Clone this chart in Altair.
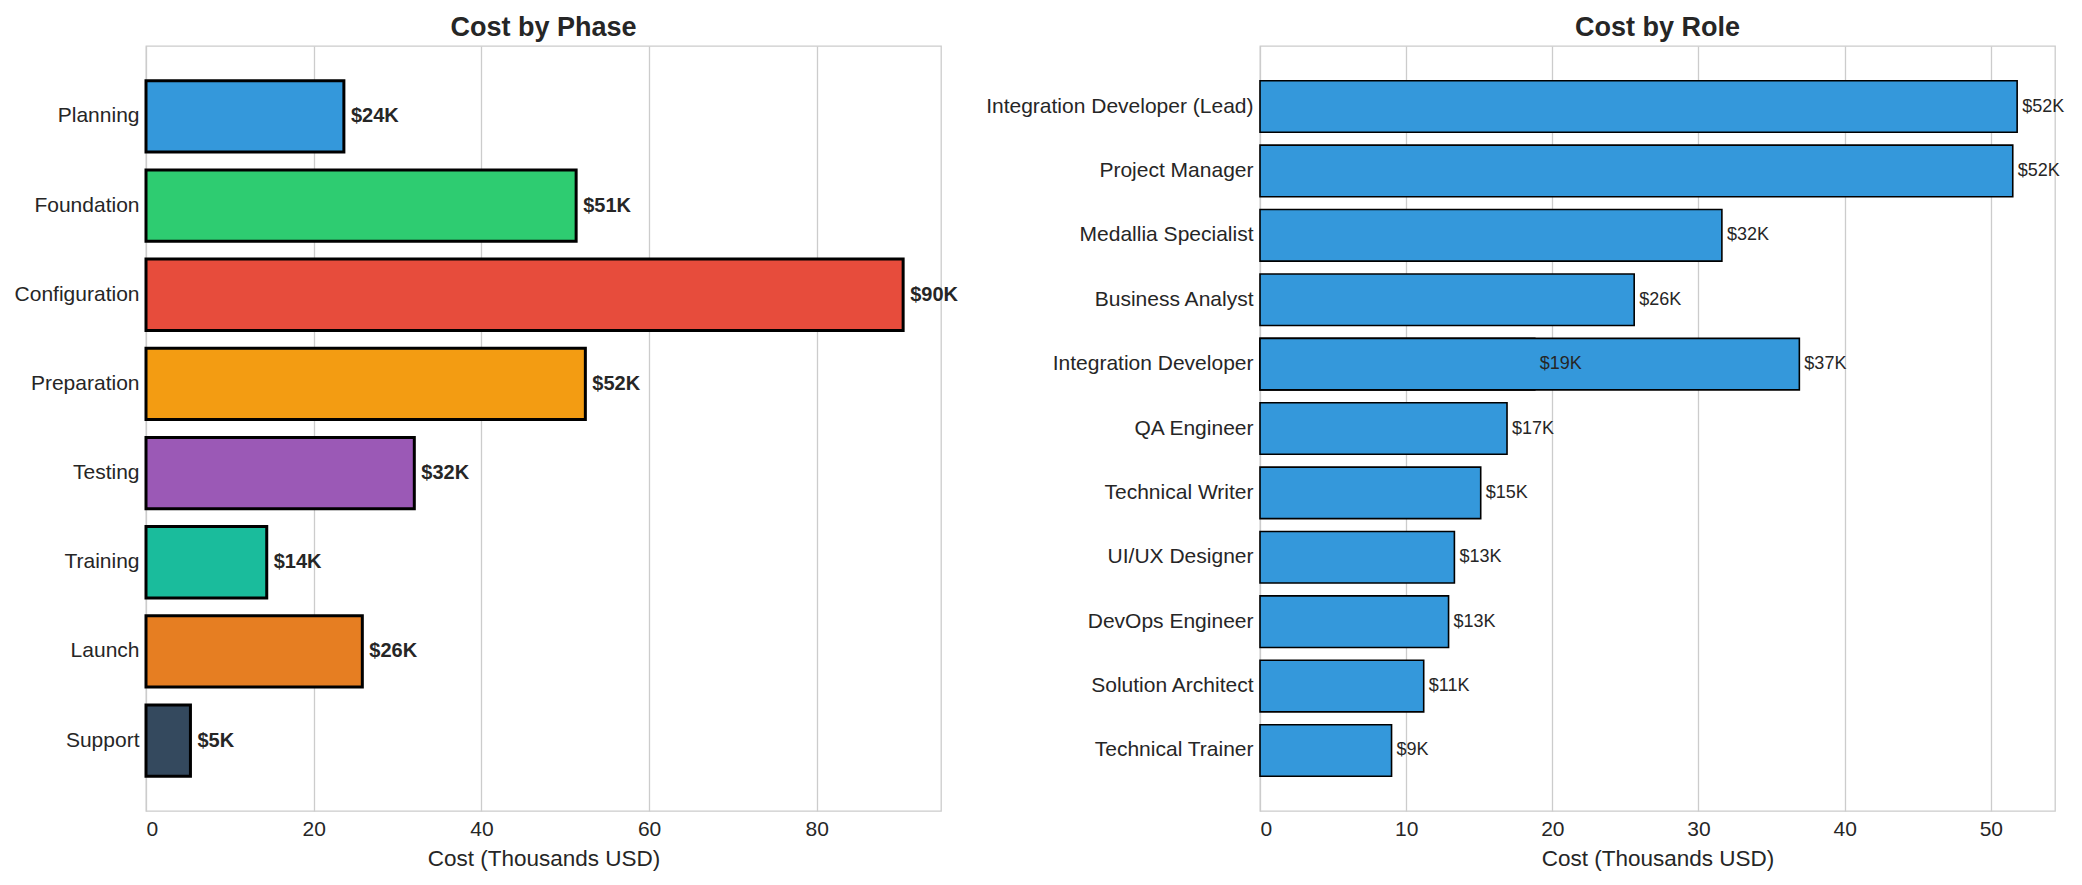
import pandas as pd
import altair as alt

FONT = "Liberation Sans"
TEXT = "#262626"

phases = ["Planning", "Foundation", "Configuration", "Preparation",
          "Testing", "Training", "Launch", "Support"]
phase_costs = [23.6, 51.3, 90.3, 52.4, 32.0, 14.4, 25.8, 5.3]
phase_colors = ["#3498db", "#2ecc71", "#e74c3c", "#f39c12",
                "#9b59b6", "#1abc9c", "#e67e22", "#34495e"]

# bottom-to-top drawing order; "Integration Developer" appears twice
roles = ["Technical Trainer", "Solution Architect", "DevOps Engineer",
         "UI/UX Designer", "Technical Writer", "QA Engineer",
         "Integration Developer", "Business Analyst", "Medallia Specialist",
         "Integration Developer", "Project Manager",
         "Integration Developer (Lead)"]
role_costs = [9.0, 11.2, 12.9, 13.3, 15.1, 16.9, 18.8, 25.6, 31.6, 36.9, 51.5, 51.8]

phase_df = pd.DataFrame({"phase": phases, "cost": phase_costs})
phase_df["label"] = phase_df.cost.map(lambda v: f"${v:.0f}K")

role_df = pd.DataFrame({"role": roles, "cost": role_costs})
role_df["label"] = role_df.cost.map(lambda v: f"${v:.0f}K")
role_order = list(pd.unique(role_df.role))[::-1]

W, H = 795, 765


def x_enc(max_val, ticks):
    return alt.X(
        "cost:Q",
        title="Cost (Thousands USD)",
        stack=None,
        scale=alt.Scale(domain=[0, max_val * 1.05], nice=False, zero=True),
        axis=alt.Axis(values=ticks),
    )


bars_phase = (
    alt.Chart(phase_df)
    .mark_bar(stroke="black", strokeWidth=3)
    .encode(
        x_enc(max(phase_costs), [0, 20, 40, 60, 80]),
        alt.Y("phase:N", sort=phases, title=None,
              scale=alt.Scale(paddingInner=0.2, paddingOuter=0.39),
              axis=alt.Axis(bandPosition=0.5)),
        alt.Color("phase:N", scale=alt.Scale(domain=phases, range=phase_colors),
                  legend=None),
    )
)
text_phase = (
    alt.Chart(phase_df)
    .mark_text(align="left", baseline="middle", dx=7, fontSize=20,
               fontWeight="bold", font=FONT, color=TEXT)
    .encode(x="cost:Q", y=alt.Y("phase:N", sort=phases), text="label:N")
)
left = (bars_phase + text_phase).properties(
    width=W, height=H, title="Cost by Phase"
)

bars_role = (
    alt.Chart(role_df)
    .mark_bar(stroke="black", strokeWidth=1.6, color="#3498db")
    .encode(
        x_enc(max(role_costs), [0, 10, 20, 30, 40, 50]),
        alt.Y("role:N", sort=role_order, title=None,
              scale=alt.Scale(paddingInner=0.2, paddingOuter=0.54),
              axis=alt.Axis(bandPosition=0.5)),
    )
)
text_role = (
    alt.Chart(role_df)
    .mark_text(align="left", baseline="middle", dx=5, fontSize=18,
               font=FONT, color=TEXT)
    .encode(x="cost:Q", y=alt.Y("role:N", sort=role_order), text="label:N")
)
right = (bars_role + text_role).properties(
    width=W, height=H, title="Cost by Role"
)

chart = (
    alt.hconcat(left, right, spacing=26)
    .configure(background="white")
    .configure_view(stroke="#cccccc", strokeWidth=1.3)
    .configure_axis(
        labelFont=FONT, titleFont=FONT, labelColor=TEXT, titleColor=TEXT,
        labelFontSize=21, titleFontSize=22.5, titleFontWeight="normal",
        labelLimit=0, ticks=False, domain=False, gridColor="#cccccc",
        gridWidth=1.3, labelPadding=7, titlePadding=8,
    )
    .configure_title(font=FONT, fontSize=27, fontWeight="bold", color=TEXT,
                     offset=4)
)

chart.save("out.html", embed_options={"renderer": "svg", "actions": False})
